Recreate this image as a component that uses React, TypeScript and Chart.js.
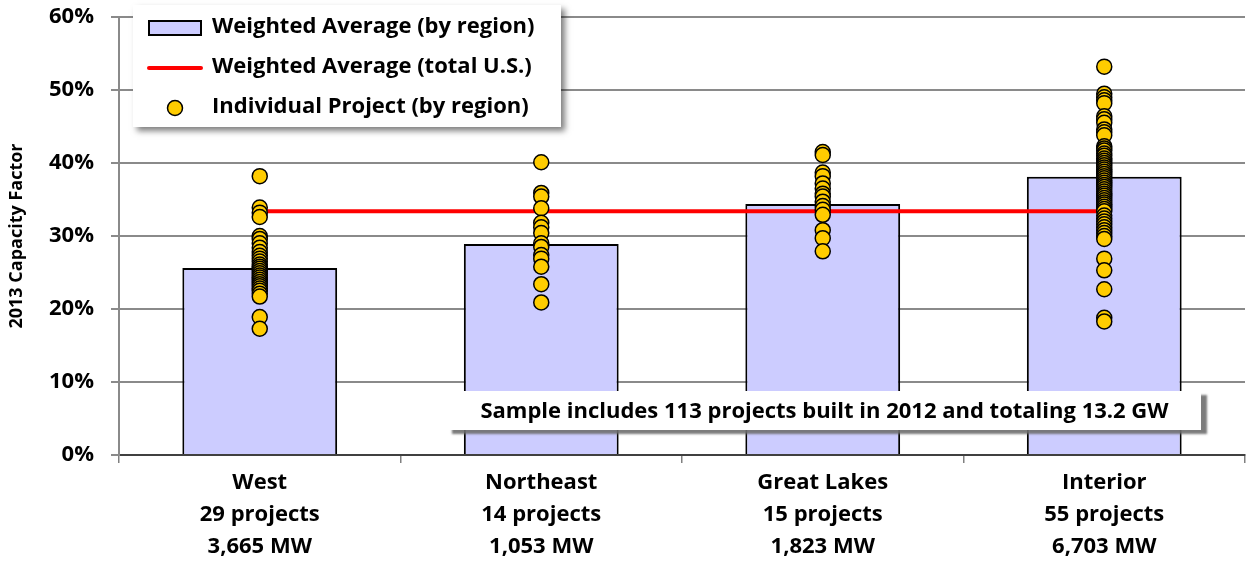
import React, { useEffect, useRef } from 'react';
import { Chart, registerables } from 'chart.js';

Chart.register(...registerables);

const categories = ['West', 'Northeast', 'Great Lakes', 'Interior'];
const projectCounts = ['29 projects', '14 projects', '15 projects', '55 projects'];
const capacities = ['3,665 MW', '1,053 MW', '1,823 MW', '6,703 MW'];
const regionAverages = [25.6, 28.9, 34.4, 38.1];
const usAverage = 33.4;

const westProjects = [38.2, 33.9, 33.2, 32.6, 30.0, 29.6, 29.0, 28.4, 27.8, 27.3, 26.9, 26.5, 26.1, 25.8, 25.5, 25.2, 24.9, 24.6, 24.3, 24.0, 23.7, 23.4, 23.1, 22.8, 22.5, 22.1, 21.7, 18.9, 17.3];
const northeastProjects = [40.1, 35.9, 35.4, 33.8, 31.8, 31.2, 30.4, 29.0, 28.5, 27.4, 26.9, 25.8, 23.4, 20.9];
const greatLakesProjects = [41.5, 41.1, 38.7, 38.2, 37.2, 36.5, 35.8, 35.4, 34.7, 34.1, 33.6, 32.9, 30.8, 29.7, 27.9];
const interiorProjects = [53.2, 49.5, 49.0, 48.6, 48.2, 46.4, 46.0, 45.5, 44.6, 44.2, 43.8, 42.3, 42.0, 41.7, 41.3, 41.0, 40.6, 40.3, 40.0, 39.7, 39.4, 39.1, 38.8, 38.5, 38.2, 37.9, 37.6, 37.3, 37.0, 36.7, 36.4, 36.1, 35.8, 35.5, 35.2, 34.9, 34.6, 34.3, 34.0, 33.7, 33.4, 32.8, 32.4, 32.0, 31.6, 31.2, 30.8, 30.4, 30.0, 29.6, 26.9, 25.3, 22.7, 18.8, 18.3];
const projectSeries = [westProjects, northeastProjects, greatLakesProjects, interiorProjects];

const yMin = 0;
const yMax = 60;
const yStep = 10;

const legendLabels = ['Weighted Average (by region)', 'Weighted Average (total U.S.)', 'Individual Project (by region)'];
const noteText = 'Sample includes 113 projects built in 2012 and totaling 13.2 GW';

const FONT = '"Open Sans", Lato, sans-serif';
const BAR_FILL = '#CCCCFF';
const POINT_FILL = '#FFCC00';
const RED = '#FF0000';

const overlayPlugin = {
  id: 'overlay',
  afterDraw(chart: any) {
    const ctx = chart.ctx as CanvasRenderingContext2D;
    const area = chart.chartArea;
    // Legend box
    const lx = area.left + 14;
    const ly = 5;
    const lw = 428;
    const lh = 122;
    ctx.save();
    ctx.shadowColor = 'rgba(0,0,0,0.5)';
    ctx.shadowBlur = 6;
    ctx.shadowOffsetX = 4;
    ctx.shadowOffsetY = 4;
    ctx.fillStyle = '#ffffff';
    ctx.fillRect(lx, ly, lw, lh);
    ctx.restore();

    ctx.save();
    const rows = [28, 68, 108];
    const sx = lx + 16;
    const sw = 52;
    ctx.fillStyle = BAR_FILL;
    ctx.fillRect(sx, rows[0] - 7, sw, 14);
    ctx.strokeStyle = '#000';
    ctx.lineWidth = 2;
    ctx.strokeRect(sx, rows[0] - 7, sw, 14);
    ctx.strokeStyle = RED;
    ctx.lineWidth = 4;
    ctx.lineCap = 'round';
    ctx.beginPath();
    ctx.moveTo(sx, rows[1]);
    ctx.lineTo(sx + sw, rows[1]);
    ctx.stroke();
    ctx.fillStyle = POINT_FILL;
    ctx.strokeStyle = '#000';
    ctx.lineWidth = 1.5;
    ctx.beginPath();
    ctx.arc(sx + sw / 2, rows[2], 7.5, 0, Math.PI * 2);
    ctx.fill();
    ctx.stroke();

    ctx.fillStyle = '#000';
    ctx.font = `bold 22px ${FONT}`;
    ctx.textAlign = 'left';
    ctx.textBaseline = 'middle';
    legendLabels.forEach((t, i) => ctx.fillText(t, lx + 79, rows[i] - 1));
    ctx.restore();

    // Note box
    const nx = 446;
    const ny = 391;
    const nw = 755;
    const nh = 39;
    ctx.save();
    ctx.shadowColor = 'rgba(110,110,110,0.9)';
    ctx.shadowBlur = 2;
    ctx.shadowOffsetX = 6;
    ctx.shadowOffsetY = 4;
    ctx.fillStyle = '#ffffff';
    ctx.fillRect(nx, ny, nw, nh);
    ctx.restore();
    ctx.save();
    ctx.fillStyle = '#000';
    ctx.font = `bold 22px ${FONT}`;
    ctx.textAlign = 'center';
    ctx.textBaseline = 'middle';
    ctx.fillText(noteText, nx + nw / 2 + 1, ny + nh / 2 + 1);
    ctx.restore();
  },
};

export default function App() {
  const canvasRef = useRef<HTMLCanvasElement | null>(null);

  useEffect(() => {
    document.body.style.margin = '0';
    const canvas = canvasRef.current;
    if (!canvas) return;

    const pointData = categories.flatMap((c, i) => projectSeries[i].map((v) => ({ x: c, y: v })));

    const chart = new Chart(canvas, {
      type: 'bar',
      data: {
        labels: categories,
        datasets: [
          {
            type: 'line',
            label: legendLabels[2],
            data: pointData as any,
            showLine: false,
            pointRadius: 7.5,
            pointBackgroundColor: POINT_FILL,
            pointBorderColor: '#000000',
            pointBorderWidth: 1.5,
            order: 0,
          } as any,
          {
            type: 'line',
            label: legendLabels[1],
            data: categories.map(() => usAverage),
            borderColor: RED,
            borderWidth: 4,
            pointRadius: 0,
            fill: false,
            order: 1,
          } as any,
          {
            type: 'bar',
            label: legendLabels[0],
            data: regionAverages,
            backgroundColor: BAR_FILL,
            borderColor: '#000000',
            borderWidth: 2,
            barPercentage: 0.55,
            categoryPercentage: 1,
            order: 2,
          } as any,
        ],
      },
      options: {
        responsive: false,
        animation: false,
        layout: { padding: { left: 0, right: 3, top: 17, bottom: 0 } },
        plugins: {
          legend: { display: false },
          tooltip: { enabled: false },
          title: { display: false },
        },
        scales: {
          x: {
            offset: true,
            grid: {
              offset: true,
              drawOnChartArea: false,
              drawTicks: true,
              tickLength: 8,
              color: '#808080',
              lineWidth: 1.5,
            },
            border: { display: true, color: '#404040', width: 2 },
            ticks: {
              color: '#000',
              font: { family: FONT, size: 22, weight: 'bold', lineHeight: '32px' } as any,
              padding: 4,
              maxRotation: 0,
              autoSkip: false,
              callback: (_v: any, i: number) => [categories[i], projectCounts[i], capacities[i]],
            },
            afterFit: (s: any) => {
              s.height = 110;
              s.paddingTop = 0;
              s.paddingBottom = 0;
            },
          },
          y: {
            min: yMin,
            max: yMax,
            grid: {
              color: '#8a8a8a',
              lineWidth: 2,
              tickLength: 8,
            },
            border: { display: true, color: '#8a8a8a', width: 2 },
            ticks: {
              stepSize: yStep,
              color: '#000',
              padding: 17,
              font: { family: FONT, size: 22, weight: 'bold' } as any,
              callback: (v: any) => `${v}%`,
            },
            title: {
              display: true,
              text: '2013 Capacity Factor',
              color: '#000',
              font: { family: FONT, size: 18, weight: 'bold' } as any,
              padding: { top: 6, bottom: 0 },
            },
            afterFit: (s: any) => {
              s.width = 119;
              s.paddingTop = 0;
              s.paddingBottom = 0;
            },
          },
        },
      },
      plugins: [overlayPlugin],
    });

    return () => chart.destroy();
  }, []);

  return (
    <div style={{ width: 1254, height: 565 }}>
      <canvas ref={canvasRef} width={1254} height={565} style={{ display: 'block' }} />
    </div>
  );
}
